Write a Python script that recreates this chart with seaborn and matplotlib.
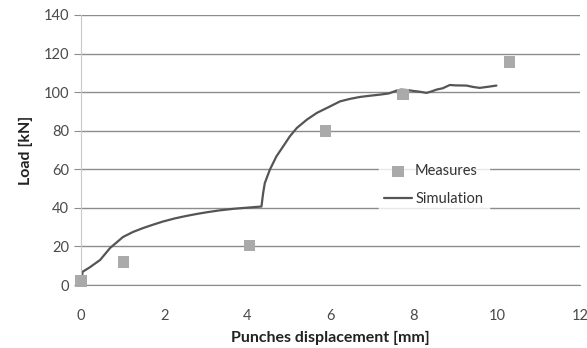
import matplotlib
matplotlib.use("Agg")
import matplotlib.pyplot as plt
import seaborn as sns
import pandas as pd

# Measured points
meas_x = [0.0, 1.02, 4.05, 5.88, 7.74, 10.31]
meas_y = [2.0, 12.0, 20.5, 80.0, 98.8, 115.5]

# Simulation curve
sim_x = [0.0, 0.02, 0.04, 0.2, 0.46, 0.7, 1.01, 1.25, 1.49, 1.75, 1.97, 2.25, 2.53, 2.8, 3.02, 3.3, 3.66, 4.0, 4.34,
         4.38, 4.42, 4.54, 4.70, 4.86, 5.02, 5.19, 5.43, 5.67, 5.99, 6.23, 6.47, 6.71,
         6.9, 7.19, 7.4, 7.59, 7.7, 7.83, 8.0, 8.15, 8.31, 8.45, 8.55, 8.7, 8.87, 9.0, 9.27, 9.45, 9.59, 9.8, 9.99]
sim_y = [0.0, 4.0, 6.9, 9.0, 13.0, 19.2, 24.9, 27.5, 29.5, 31.4, 32.9, 34.5, 35.8, 36.9, 37.7, 38.6, 39.5, 40.1, 40.7,
         47.6, 52.8, 59.7, 66.7, 71.8, 77.0, 81.4, 85.7, 89.2, 92.6, 95.2, 96.5, 97.5,
         98.0, 98.7, 99.3, 100.8, 101.3, 101.1, 100.6, 100.2, 99.6, 100.5, 101.3, 102.0, 103.7, 103.5, 103.4, 102.6, 102.2, 102.8, 103.4]

sns.set_style("white")
plt.rcParams['font.family'] = ['Lato', 'DejaVu Sans']

fig = plt.figure(figsize=(5.87, 3.48), dpi=100)
ax = fig.add_axes([0.138, 0.181, 0.85, 0.776])

sns.lineplot(x=sim_x, y=sim_y, ax=ax, color="#555555", lw=1.6, label="Simulation", sort=False, estimator=None)
sns.scatterplot(x=meas_x, y=meas_y, ax=ax, marker="s", s=70, color="#aaaaaa", edgecolor="none",
                label="Measures", zorder=3, clip_on=False)

ax.set_xlim(0, 12)
ax.set_ylim(0, 140)
ax.set_xticks(range(0, 13, 2))
ax.set_yticks(range(0, 141, 20))
ax.yaxis.grid(True, color="#8c8c8c", lw=1.0)
ax.set_axisbelow(True)
for s in ["top", "right"]:
    ax.spines[s].set_visible(False)
ax.spines["left"].set_color("#c8c8c8")
ax.spines["bottom"].set_color("#8c8c8c")
ax.tick_params(axis="x", direction="out", length=5, color="#8c8c8c", labelsize=10.5, labelcolor="#4a4a4a", pad=12)
ax.tick_params(axis="y", direction="out", length=5, color="#8c8c8c", labelsize=10.5, labelcolor="#4a4a4a", left=True)
ax.set_xlabel("Punches displacement [mm]", fontsize=11.5, fontweight="bold", color="#222222", labelpad=6)
ax.set_ylabel("Load [kN]", fontsize=11.5, fontweight="bold", color="#222222", labelpad=8)

handles, labels = ax.get_legend_handles_labels()
order = [labels.index("Measures"), labels.index("Simulation")]
leg = ax.legend([handles[i] for i in order], [labels[i] for i in order],
                loc="center", bbox_to_anchor=(0.707, 0.37), frameon=True, fontsize=10.5,
                handlelength=1.9, handletextpad=0.2, borderpad=0.4, labelspacing=0.95,
                borderaxespad=0)
leg.get_frame().set_facecolor("white")
leg.get_frame().set_edgecolor("white")
for t in leg.get_texts():
    t.set_color("#333333")

fig.savefig("out.png", dpi=100)
